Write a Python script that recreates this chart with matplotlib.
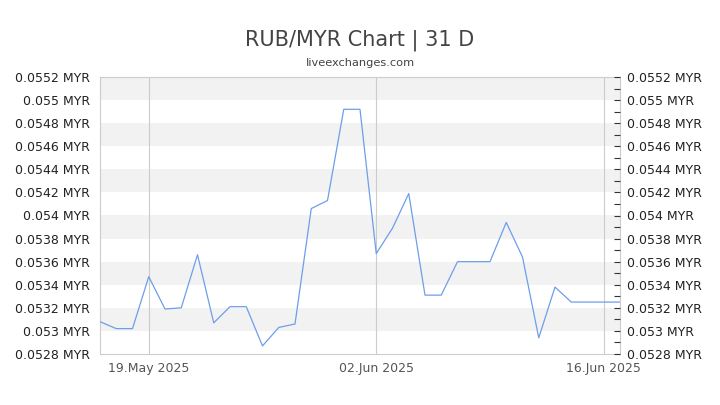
import numpy as np
import matplotlib
matplotlib.use("Agg")
import matplotlib.pyplot as plt
import matplotlib.dates as mdates
from matplotlib.ticker import FixedLocator, FuncFormatter, MultipleLocator

# daily RUB/MYR rates, 16 May 2025 - 17 Jun 2025
dates = np.arange(np.datetime64("2025-05-16"), np.datetime64("2025-06-18"))
rates = [
    0.05308, 0.05302, 0.05302, 0.05347, 0.05319, 0.05320, 0.05366, 0.05307,
    0.05321, 0.05321, 0.05287, 0.05303, 0.05306, 0.05406, 0.05413, 0.05492,
    0.05492, 0.05367, 0.05389, 0.05419, 0.05331, 0.05331, 0.05360, 0.05360,
    0.05360, 0.05394, 0.05364, 0.05294, 0.05338, 0.05325, 0.05325, 0.05325,
    0.05325,
]
tick_dates = ["2025-05-19", "2025-06-02", "2025-06-16"]
tick_labels = ["19.May 2025", "02.Jun 2025", "16.Jun 2025"]
y_ticks = [0.0528 + 0.0002 * i for i in range(13)]


def fmt(v, pos=None):
    s = f"{v:.4f}".rstrip("0")
    return s + " MYR"


fig = plt.figure(figsize=(7.2, 4.05), dpi=100)
ax = fig.add_axes([100 / 720, 1 - 354 / 405, 520 / 720, 277 / 405])

x = mdates.date2num(dates.astype("datetime64[D]").astype(object))
xt = mdates.date2num([np.datetime64(d).astype(object) for d in tick_dates])

# alternating bands
for i in range(len(y_ticks) - 1):
    if i % 2 == 1:
        ax.axhspan(y_ticks[i], y_ticks[i + 1], color="#f2f2f2", lw=0, zorder=0)

for t in xt:
    ax.axvline(t, color="#cccccc", lw=0.8, zorder=1)

ax.plot(x, rates, color="#6d9eeb", lw=0.9, zorder=3)

ax.set_xlim(x[0], x[-1])
ax.set_ylim(0.0528, 0.0552)

for sp in ax.spines.values():
    sp.set_color("#cccccc")
    sp.set_linewidth(0.8)

ax.set_xticks(xt)
ax.set_xticklabels(tick_labels)
ax.tick_params(axis="x", length=0, pad=6, labelsize=9, labelcolor="#555555")

ax.yaxis.set_major_locator(FixedLocator(y_ticks))
ax.yaxis.set_major_formatter(FuncFormatter(fmt))
ax.tick_params(axis="y", which="both", left=False, right=False, labelleft=True,
               labelright=False, length=0, labelsize=9, labelcolor="#222222", pad=7)

ax2 = ax.twinx()
ax2.set_ylim(0.0528, 0.0552)
ax2.yaxis.set_major_locator(FixedLocator(y_ticks))
ax2.yaxis.set_minor_locator(MultipleLocator(0.0001))
ax2.yaxis.set_major_formatter(FuncFormatter(fmt))
ax2.tick_params(axis="y", which="both", direction="in", length=4, width=0.8,
                color="#333333", labelsize=9, labelcolor="#222222", pad=5)
for sp in ax2.spines.values():
    sp.set_visible(False)

fig.text(0.5, 1 - 40 / 405, "RUB/MYR Chart | 31 D", ha="center", va="center",
         fontsize=15, color="#444444")
fig.text(0.5, 1 - 63 / 405, "liveexchanges.com", ha="center", va="center",
         fontsize=8.2, color="#444444")

fig.savefig("out.png", dpi=100)
